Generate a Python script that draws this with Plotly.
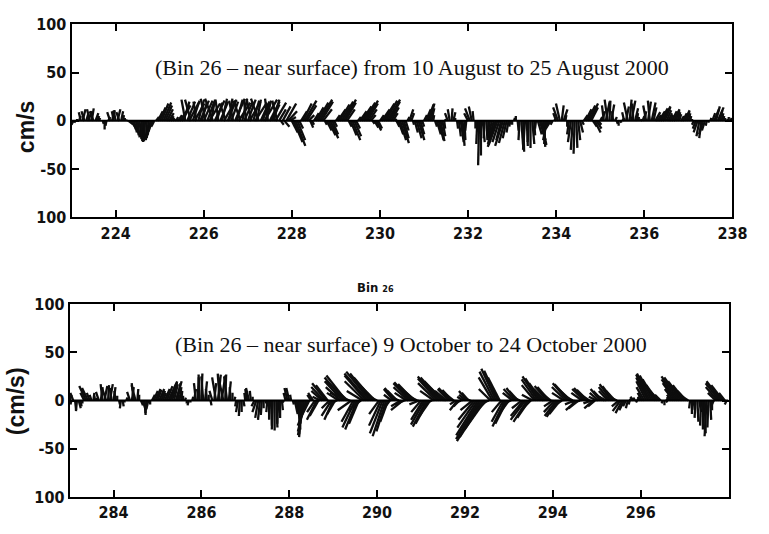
import plotly.graph_objects as go

# ---------------------------------------------------------------------------
# Hourly near-surface current components (cm/s), Bin 26.
# u = eastward, v = northward; one row per day, 24 hourly values per row.
# ---------------------------------------------------------------------------
aug_start_day = 223  # year-day of the first row
aug_u = [
    [-3, -2, -1, 0, 2, -2, 3, -3, 2, 4, -3, 2, -4, 3, 2, 1, 0, 1, 0, -1, 2, -3, 3, -2],
    [-2, 3, -3, 2, 1, 0, 1, 4, 5, 4, 3, 3, 2, 2, 1, 0, -1, -1, -2, -3, -4, -3, 3, 5],
    [6, 7, 8, 7, 6, 5, 3, 2, 1, 2, 4, 7, 9, 6, -4, 8, 10, -6, 7, 10, -3, 6, 9, 5],
    [9, -5, 7, 11, 4, -8, 10, 6, -3, 8, 5, 12, -6, 9, 3, 7, -4, 10, 6, 12, -7, 5, 9, -2],
    [8, 11, -5, 6, 12, 4, -8, 9, 7, 13, 5, -3, 10, 8, 6, 11, -5, 7, 3, 8, 5, 10, 9, 6],
    [6, 9, 10, 8, 4, 6, 9, 12, 10, 6, 3, 2, 5, 8, 11, 13, 12, 9, 2, 5, 7, 8, 6, 3],
    [4, 8, 10, 12, 13, 11, 8, 3, 6, 8, 7, 4, 3, 7, 10, 12, 13, 11, 8, 5, 2, 4, 5, 4],
    [4, 8, 11, 12, 13, 11, 8, 5, 2, 3, 5, 6, 7, 5, 3, 2, 4, 3, 1, 3, 5, 6, 4, 2],
    [3, 5, 6, 5, 3, 1, 2, 4, 5, 4, 3, 1, -1, -3, -2, 1, 2, 0, 1, 2, 3, 2, 1, -1],
    [-4, -5, -3, -1, 0, -1, -1, 0, 2, -1, 1, 0, -2, -4, -6, -8, -9, -7, -5, -8, -6, -4, -2, -1],
    [0, 1, 0, 1, -1, 2, 1, -2, 1, -1, 0, 2, 1, -1, 4, 6, 5, 2, -1, -4, -6, -5, -2, 1],
    [-3, -5, -4, 2, 4, 1, 0, -2, -3, -2, -1, 1, 2, 3, 2, 4, 6, 8, 9, 7, 4, 6, 5, 3],
    [2, 3, -2, 4, -3, 1, 3, -1, 2, 1, 0, 1, 2, -2, 3, -4, 2, 4, -1, 3, 1, 0, 1, 2],
    [2, -3, 3, -2, 4, 3, 5, 4, 6, 7, 8, 6, 5, 4, 3, 5, 6, 4, 3, 2, 3, 4, 5, 3],
    [2, 1, 0, -2, -3, -4, -3, -2, -4, -3, -1, 0, 1, 3, 5, 4, 6, 3, 2, 1, 0, 1, 0, 1],
]
aug_v = [
    [-5, -4, -2, 2, 5, 9, 12, 10, 7, 10, 12, 13, 10, 8, 5, 3, 1, -3, -9, -5, 4, 9, 11, 10],
    [11, 12, 9, 10, 6, 3, 1, -3, -6, -9, -12, -15, -17, -19, -21, -22, -21, -20, -18, -15, -11, -6, 4, 10],
    [14, 18, 19, 16, 12, 8, 5, 3, 2, 4, 6, 10, 16, 20, 22, 20, 19, 22, 21, 18, 20, 22, 21, 19],
    [21, 23, 20, 18, 22, 23, 21, 19, 22, 20, 23, 21, 18, 22, 23, 20, 21, 23, 22, 19, 21, 23, 20, 22],
    [22, 20, 23, 21, 19, 22, 23, 20, 18, 22, 21, 23, 20, 17, 22, 19, 21, 12, -4, 15, -6, 18, 10, 4],
    [-12, -22, -26, -20, -8, 10, 18, 21, 16, 6, -7, -4, 8, 14, 19, 22, 20, 12, -4, -10, -15, -18, -14, -6],
    [6, 12, 17, 20, 22, 19, 12, -6, -15, -20, -16, -8, 4, 10, 15, 19, 21, 18, 12, 6, -3, -7, -10, -8],
    [6, 12, 18, 21, 22, 20, 14, 8, 2, -6, -14, -20, -23, -18, -10, 4, 12, 8, -4, -12, -18, -20, -14, -6],
    [6, 12, 17, 18, 13, 6, -6, -14, -20, -21, -16, -8, 2, 8, 12, 13, 9, 3, -8, -16, -22, -26, -20, -10],
    [8, 13, 15, 10, -8, -24, -46, -36, -22, -18, -20, -14, -10, -18, -24, -27, -25, -22, -20, -26, -23, -18, -12, -6],
    [-4, 3, 5, -10, -20, -28, -32, -30, -26, -22, -28, -24, -15, -8, -14, -20, -25, -27, -24, -20, -14, -8, -4, 2],
    [8, 14, 18, 16, 12, 6, -6, -14, -22, -30, -34, -28, -20, -12, -4, 6, 12, 16, 18, 14, -6, -12, -8, -4],
    [4, 10, 16, 20, 22, 21, 17, 10, 4, -3, -5, -2, 3, 9, 15, 19, 22, 21, 18, 13, 8, 4, 2, 5],
    [10, 16, 20, 21, 19, 14, 9, 6, 10, 13, 15, 14, 11, 8, 6, 10, 12, 11, 9, 7, 5, 8, 11, 10],
    [8, 5, 2, -4, -8, -12, -16, -18, -14, -10, -5, -2, 3, 8, 12, 15, 14, 11, 8, 5, 3, 2, 4, 3],
]

oct_start_day = 283
oct_u = [
    [2, -1, -3, 1, -1, 2, 1, 0, -4, -7, -6, -3, -2, 1, -1, 0, -3, 2, -2, 3, -4, 1, 3, -2],
    [2, -1, 0, 1, -1, 1, 0, 1, -1, -3, 2, -2, -4, 1, 0, 2, 3, 1, -1, -2, 0, 3, 4, 5],
    [4, 5, 4, 3, 5, 6, 8, 7, 5, 4, 6, 3, 2, 1, 0, 1, 0, -1, 0, 1, 2, -2, 1, -1],
    [1, -2, 2, -1, 0, 1, -3, 2, -4, 3, -2, 4, -5, 1, -3, 2, -1, 0, 1, -1, -2, -1, 0, 1],
    [-1, -2, -3, -1, 0, -3, -4, -3, -2, -1, 0, 1, -1, 0, 1, -1, 0, 1, -1, 0, 1, -1, -2, -3],
    [-3, -1, 1, 3, 4, 2, -1, -3, -6, -8, -10, -9, -4, -5, -8, -10, -9, -8, -11, -13, -14, -12, -8, -10],
    [-9, -8, -9, -12, -15, -18, -20, -20, -22, -20, -14, -12, -13, -12, -10, -12, -16, -20, -22, -24, -24, -22, -20, -16],
    [-12, -10, -12, -13, -12, -10, -8, -6, -8, -10, -11, -10, -9, -10, -12, -10, -12, -15, -17, -18, -16, -14, -12, -10],
    [-10, -12, -14, -14, -13, -11, -10, -14, -18, -20, -22, -21, -19, -16, -12, -11, -12, -10, -8, -6, -8, -6, -5, -6],
    [-6, -8, -7, -6, -12, -16, -19, -22, -24, -25, -24, -21, -18, -14, -12, -14, -15, -15, -14, -12, -10, -12, -13, -12],
    [-10, -9, -10, -11, -10, -9, -8, -10, -13, -15, -14, -12, -10, -11, -13, -15, -16, -15, -13, -11, -12, -13, -12, -10],
    [-9, -11, -12, -12, -11, -9, -12, -14, -15, -15, -13, -11, -10, -11, -10, -9, -11, -12, -12, -11, -9, -8, -9, -7],
    [-8, -9, -10, -9, -8, -7, -9, -11, -12, -11, -9, -8, -7, -8, -7, -5, -3, -2, -1, -2, -3, -2, -1, -2],
    [-3, -5, -8, -10, -12, -14, -15, -14, -13, -11, -9, -6, -1, 0, 1, -2, -3, -5, -9, -13, -16, -18, -17, -15],
    [-12, -9, -6, -1, 0, 1, -1, 1, 2, -1, 0, 1, -2, -1, 1, 0, -2, -8, -12, -14, -15, -12, -6, -2],
]
oct_v = [
    [6, -4, 8, -10, -11, -8, -6, -3, 8, 15, 13, 8, 6, 8, 5, 3, 9, 14, 17, 15, 12, 16, 17, 13],
    [14, 10, 5, -4, -8, -6, -2, 3, 3, 9, 14, 18, 16, 12, 6, -5, -10, -15, -13, -9, -4, 6, 10, 12],
    [11, 12, 10, 8, 12, 15, 18, 20, 19, 17, 20, 18, 14, 10, 5, 3, -3, -5, -2, 4, 12, 18, 24, 27],
    [28, 25, 20, 12, 6, -5, 10, 18, 24, 27, 28, 26, 24, 27, 25, 20, 14, 8, 4, -6, -12, -16, -12, -6],
    [8, 12, 13, 10, 4, -6, -12, -18, -20, -15, -8, -3, -12, -20, -26, -30, -31, -28, -24, -18, -10, -2, 8, 13],
    [13, 6, -4, -14, -24, -30, -35, -38, -36, -32, -26, -18, 6, 8, -12, -20, -16, 4, 10, 14, 18, 16, -8, -16],
    [-20, -14, -4, 8, 14, 20, 24, 26, 20, 8, -10, -22, -28, -30, -24, -10, 10, 20, 26, 28, 30, 28, 24, 16],
    [6, -14, -26, -34, -37, -32, -22, -8, 6, 12, 13, 10, 4, -6, -10, -4, 8, 14, 18, 19, 17, 12, 6, -4],
    [-12, -20, -25, -27, -24, -16, -4, 10, 18, 23, 25, 24, 20, 14, 10, 12, 13, 11, 6, -4, -10, -6, -2, 4],
    [6, 10, 8, 2, -10, -20, -28, -36, -40, -42, -38, -30, -18, -6, 12, 24, 30, 33, 31, 24, -12, -22, -27, -24],
    [-14, -4, 8, 12, 13, 10, 4, -8, -16, -20, -22, -18, -10, 6, 16, 22, 25, 23, 18, 10, 12, 15, 14, 8],
    [-6, -12, -16, -17, -14, -6, 8, 14, 18, 17, 12, 6, -4, -10, -8, -2, 8, 12, 13, 11, 6, -3, -8, -6],
    [4, 8, 12, 10, 6, 4, 10, 14, 17, 15, 10, 4, -6, -11, -13, -10, -6, -8, -4, 2, 4, 3, -2, 2],
    [4, 8, 14, 20, 24, 27, 28, 26, 22, 16, 10, 6, -3, -5, -2, 2, 4, 6, 12, 18, 22, 25, 24, 20],
    [16, 10, 4, -8, -14, -10, -18, -22, -12, -26, -30, -34, -37, -28, -20, -10, -4, 8, 14, 18, 20, 16, 8, -4],
]

aug_xticks = [224, 226, 228, 230, 232, 234, 236, 238]
oct_xticks = [284, 286, 288, 290, 292, 294, 296]
y_tickvals = [-100, -50, 0, 50, 100]
y_ticktext = ["100", "-50", "0", "50", "100"]

aug_caption = "(Bin 26 \u2013 near surface) from 10 August to 25 August 2000"
oct_caption = "(Bin 26 \u2013 near surface) 9 October to 24 October 2000"

# ---------------------------------------------------------------------------
W, H = 769, 534
top_dom_x = [73 / W, 747 / W]
top_dom_y = [1 - 216 / H, 1 - 16 / H]
bot_dom_x = [71 / W, 743 / W]
bot_dom_y = [1 - 506 / H, 1 - 306 / H]
Y_RANGE = [-100, 100]
DAYS_SPAN = 15


def stick_xy(start, u_rows, v_rows, dom_x, dom_y):
    """Stick (feather) segments from (t, 0) to (t + u*k, v), with k chosen so
    that one cm/s spans the same screen length along both axes."""
    px_w = (dom_x[1] - dom_x[0]) * W
    px_h = (dom_y[1] - dom_y[0]) * H
    k = (DAYS_SPAN / px_w) * (px_h / (Y_RANGE[1] - Y_RANGE[0]))
    xs, ys = [], []
    for d, (ur, vr) in enumerate(zip(u_rows, v_rows)):
        n = len(ur)
        for h, (u, v) in enumerate(zip(ur, vr)):
            t = start + d + h / n
            xs += [t, t + u * k, None]
            ys += [0, v, None]
    return xs, ys


fig = go.Figure()

ax, ay = stick_xy(aug_start_day, aug_u, aug_v, top_dom_x, top_dom_y)
ox, oy = stick_xy(oct_start_day, oct_u, oct_v, bot_dom_x, bot_dom_y)

stick_line = dict(color="#0d0d0d", width=2.3)

fig.add_trace(go.Scatter(x=ax, y=ay, mode="lines", xaxis="x", yaxis="y",
                         line=stick_line, hoverinfo="skip", showlegend=False))
fig.add_trace(go.Scatter(x=[aug_start_day, aug_start_day + DAYS_SPAN], y=[0, 0],
                         mode="lines", xaxis="x", yaxis="y",
                         line=dict(color="black", width=2), showlegend=False))
fig.add_trace(go.Scatter(x=ox, y=oy, mode="lines", xaxis="x2", yaxis="y2",
                         line=stick_line, hoverinfo="skip", showlegend=False))
fig.add_trace(go.Scatter(x=[oct_start_day, oct_start_day + DAYS_SPAN], y=[0, 0],
                         mode="lines", xaxis="x2", yaxis="y2",
                         line=dict(color="black", width=2), showlegend=False))

tick_font = dict(family="Liberation Sans Narrow, Arial Narrow, DejaVu Sans Condensed, Arial",
                 size=16, color="#111111", weight="bold")

common_axis = dict(showline=True, linecolor="black", linewidth=2, mirror="ticks",
                   ticks="inside", ticklen=7, tickwidth=1.6, tickcolor="black",
                   showgrid=False, zeroline=False, tickfont=tick_font)

fig.update_layout(
    width=W, height=H,
    margin=dict(l=0, r=0, t=0, b=0),
    paper_bgcolor="white", plot_bgcolor="white",
    showlegend=False,
    xaxis=dict(domain=top_dom_x, anchor="y",
               range=[aug_start_day, aug_start_day + DAYS_SPAN],
               tickvals=aug_xticks, **common_axis),
    yaxis=dict(domain=top_dom_y, anchor="x", range=Y_RANGE,
               tickvals=y_tickvals, ticktext=y_ticktext, **common_axis),
    xaxis2=dict(domain=bot_dom_x, anchor="y2",
                range=[oct_start_day, oct_start_day + DAYS_SPAN],
                tickvals=oct_xticks, **common_axis),
    yaxis2=dict(domain=bot_dom_y, anchor="x2", range=Y_RANGE,
                tickvals=y_tickvals, ticktext=y_ticktext, **common_axis),
)

serif = dict(family="Liberation Serif, Times New Roman, serif", size=22, color="#111111")
axis_title_font = dict(family="Liberation Sans, Arial, sans-serif", size=23,
                       color="#111111", weight="bold")

fig.add_annotation(x=420 / W, y=1 - 61 / H, xref="paper", yref="paper",
                   text=aug_caption, showarrow=False, font=serif,
                   xanchor="center", yanchor="middle")
fig.add_annotation(x=419 / W, y=1 - 348 / H, xref="paper", yref="paper",
                   text=oct_caption, showarrow=False, font=serif,
                   xanchor="center", yanchor="middle")
fig.add_annotation(x=26 / W, y=1 - 122 / H, xref="paper", yref="paper",
                   text="cm/s", textangle=-90, showarrow=False, font=axis_title_font,
                   xanchor="center", yanchor="middle")
fig.add_annotation(x=16 / W, y=1 - 407 / H, xref="paper", yref="paper",
                   text="(cm/s)", textangle=-90, showarrow=False, font=axis_title_font,
                   xanchor="center", yanchor="middle")
fig.add_annotation(x=383 / W, y=1 - 289 / H, xref="paper", yref="paper",
                   text="Bin <span style='font-size:9px'>26</span>", showarrow=False,
                   font=dict(family="Liberation Sans Narrow, Arial Narrow, DejaVu Sans Condensed, Arial",
                             size=13, color="#111111", weight="bold"),
                   xanchor="center", yanchor="middle")

fig.write_html("out.html")
